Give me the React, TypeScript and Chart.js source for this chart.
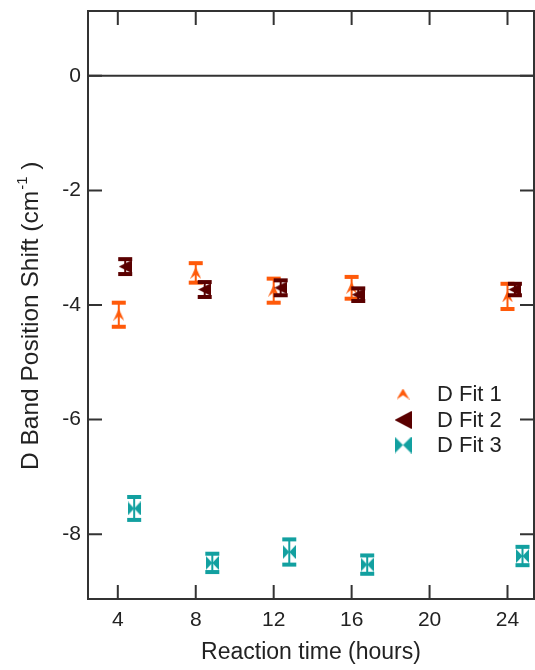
import React, { useEffect, useRef } from 'react';
import { Chart, registerables } from 'chart.js';

Chart.register(...registerables);

const xTickValues = [4, 8, 12, 16, 20, 24];
const yTickValues = [-8, -6, -4, -2, 0];

const seriesLabels = ['D Fit 1', 'D Fit 2', 'D Fit 3'];

const fit1X = [4.05, 8.0, 12.0, 16.0, 24.0];
const fit1Y = [-4.17, -3.44, -3.75, -3.7, -3.85];
const fit1Err = [0.21, 0.17, 0.21, 0.19, 0.22];

const fit2X = [4.38, 8.46, 12.36, 16.34, 24.38];
const fit2Y = [-3.33, -3.73, -3.7, -3.82, -3.73];
const fit2Err = [0.13, 0.13, 0.13, 0.11, 0.1];

const fit3X = [4.84, 8.85, 12.8, 16.8, 24.77];
const fit3Y = [-7.55, -8.5, -8.31, -8.53, -8.38];
const fit3Err = [0.2, 0.16, 0.22, 0.16, 0.16];

const COLORS = ['#FF5A0A', '#5A0000', '#12A0A0'];
const FONT = "'Liberation Sans', Arial, sans-serif";
const TEXT = '#222222';
const FRAME = '#333333';

function mk(w: number, h: number, draw: (g: CanvasRenderingContext2D, w: number, h: number) => void) {
  const c = document.createElement('canvas');
  c.width = w;
  c.height = h;
  const g = c.getContext('2d')!;
  draw(g, w, h);
  return c;
}

function arrowUp(color: string, w: number, h: number) {
  return mk(w, h, (g) => {
    g.fillStyle = color;
    g.beginPath();
    g.moveTo(w / 2, 0);
    g.lineTo(w, h);
    g.lineTo(w / 2, h * 0.62);
    g.lineTo(0, h);
    g.closePath();
    g.fill();
  });
}

function triLeft(color: string, w: number, h: number) {
  return mk(w, h, (g) => {
    g.fillStyle = color;
    g.beginPath();
    g.moveTo(0, h / 2);
    g.lineTo(w, 0);
    g.lineTo(w, h);
    g.closePath();
    g.fill();
  });
}

function bowtie(color: string, w: number, h: number) {
  return mk(w, h, (g) => {
    g.fillStyle = color;
    g.beginPath();
    g.moveTo(0, 0);
    g.lineTo(w / 2, h / 2);
    g.lineTo(0, h);
    g.closePath();
    g.moveTo(w, 0);
    g.lineTo(w / 2, h / 2);
    g.lineTo(w, h);
    g.closePath();
    g.fill();
  });
}

export default function App() {
  const ref = useRef<HTMLCanvasElement>(null);

  useEffect(() => {
    const canvas = ref.current!;
    const plotMarkers = [arrowUp(COLORS[0], 11, 12), triLeft(COLORS[1], 13, 13), bowtie(COLORS[2], 13, 14)];
    const legendMarkers = [arrowUp(COLORS[0], 13, 11), triLeft(COLORS[1], 17, 18), bowtie(COLORS[2], 17, 17)];
    const xs = [fit1X, fit2X, fit3X];
    const ys = [fit1Y, fit2Y, fit3Y];
    const errs = [fit1Err, fit2Err, fit3Err];

    const datasets = seriesLabels.map((label, i) => ({
      label,
      data: xs[i].map((x, j) => ({ x, y: ys[i][j] })),
      showLine: false,
      pointStyle: plotMarkers[i] as any,
      pointRadius: 7,
      pointHoverRadius: 7,
      backgroundColor: COLORS[i],
      borderColor: COLORS[i],
      order: 3 - i,
    }));

    const errPlugin = {
      id: 'errbars',
      afterDatasetDraw(chart: any, args: any) {
        const i = args.index;
        const e = errs[i];
        const yScale = chart.scales.y;
        const ctx = chart.ctx;
        ctx.save();
        ctx.strokeStyle = COLORS[i];
        ctx.fillStyle = COLORS[i];
        args.meta.data.forEach((pt: any, j: number) => {
          const v = ys[i][j];
          const top = yScale.getPixelForValue(v + e[j]);
          const bot = yScale.getPixelForValue(v - e[j]);
          const x = pt.x;
          ctx.lineWidth = 2;
          ctx.beginPath();
          ctx.moveTo(x, top);
          ctx.lineTo(x, bot);
          ctx.stroke();
          ctx.fillRect(x - 7, top - 2, 14, 4);
          ctx.fillRect(x - 7, bot - 2, 14, 4);
        });
        ctx.restore();
      },
    };

    const framePlugin = {
      id: 'frame',
      beforeDatasetsDraw(chart: any) {
        const { ctx, chartArea: a, scales } = chart;
        ctx.save();
        ctx.strokeStyle = FRAME;
        ctx.lineWidth = 2;
        const y0 = scales.y.getPixelForValue(0);
        ctx.beginPath();
        ctx.moveTo(a.left, y0);
        ctx.lineTo(a.right, y0);
        ctx.stroke();
        ctx.strokeRect(a.left, a.top, a.right - a.left, a.bottom - a.top);
        const tl = 14;
        ctx.beginPath();
        xTickValues.forEach((v) => {
          const x = scales.x.getPixelForValue(v);
          ctx.moveTo(x, a.bottom);
          ctx.lineTo(x, a.bottom - tl);
          ctx.moveTo(x, a.top);
          ctx.lineTo(x, a.top + tl);
        });
        yTickValues.forEach((v) => {
          const y = scales.y.getPixelForValue(v);
          ctx.moveTo(a.left, y);
          ctx.lineTo(a.left + tl, y);
          ctx.moveTo(a.right, y);
          ctx.lineTo(a.right - tl, y);
        });
        ctx.stroke();
        ctx.restore();
      },
      afterDraw(chart: any) {
        const { ctx } = chart;
        ctx.save();
        ctx.fillStyle = TEXT;
        ctx.translate(38, 470);
        ctx.rotate(-Math.PI / 2);
        ctx.textBaseline = 'alphabetic';
        ctx.textAlign = 'left';
        ctx.font = `24.5px ${FONT}`;
        const main = 'D Band Position Shift (cm';
        ctx.fillText(main, 0, 0);
        let w = ctx.measureText(main).width;
        ctx.font = `15px ${FONT}`;
        ctx.fillText('-1', w + 1, -11);
        w += ctx.measureText('-1').width + 1;
        ctx.font = `24.5px ${FONT}`;
        ctx.fillText(' )', w, 0);
        ctx.restore();

        ctx.save();
        ctx.font = `22px ${FONT}`;
        ctx.fillStyle = TEXT;
        ctx.textBaseline = 'middle';
        ctx.textAlign = 'left';
        const ly = [394, 420, 445];
        seriesLabels.forEach((label, i) => {
          const m = legendMarkers[i];
          ctx.drawImage(m, 403 - m.width / 2, ly[i] - m.height / 2);
          ctx.fillText(label, 437, ly[i] + 1);
        });
        ctx.restore();
      },
    };

    const chart = new Chart(canvas, {
      type: 'scatter',
      data: { datasets: datasets as any },
      options: {
        animation: false,
        responsive: false,
        events: [],
        layout: { autoPadding: false, padding: { top: 11, right: 1, left: 0, bottom: 0 } },
        plugins: { legend: { display: false }, tooltip: { enabled: false } },
        scales: {
          x: {
            type: 'linear',
            min: 2.47,
            max: 25.36,
            afterBuildTicks: (s: any) => {
              s.ticks = xTickValues.map((v) => ({ value: v }));
            },
            afterFit: (s: any) => {
              s.height = 71;
              s.paddingLeft = 0;
              s.paddingRight = 0;
            },
            grid: { display: false, drawTicks: false },
            border: { display: false },
            ticks: { color: TEXT, font: { family: FONT, size: 21 }, padding: 9, maxRotation: 0 },
            title: {
              display: true,
              text: 'Reaction time (hours)',
              color: TEXT,
              font: { family: FONT, size: 23 },
              padding: { top: 0, bottom: 4 },
            },
          },
          y: {
            type: 'linear',
            min: -9.13,
            max: 1.13,
            afterBuildTicks: (s: any) => {
              s.ticks = yTickValues.map((v) => ({ value: v }));
            },
            afterFit: (s: any) => {
              s.width = 88;
              s.paddingTop = 0;
              s.paddingBottom = 0;
            },
            grid: { display: false, drawTicks: false },
            border: { display: false },
            ticks: { color: TEXT, font: { family: FONT, size: 21 }, padding: 7 },
          },
        },
      },
      plugins: [errPlugin, framePlugin],
    });
    return () => chart.destroy();
  }, []);

  return (
    <div style={{ position: 'fixed', left: 0, top: 0, width: 535, height: 670, background: '#fff' }}>
      <canvas ref={ref} width={535} height={670} style={{ display: 'block' }} />
    </div>
  );
}
